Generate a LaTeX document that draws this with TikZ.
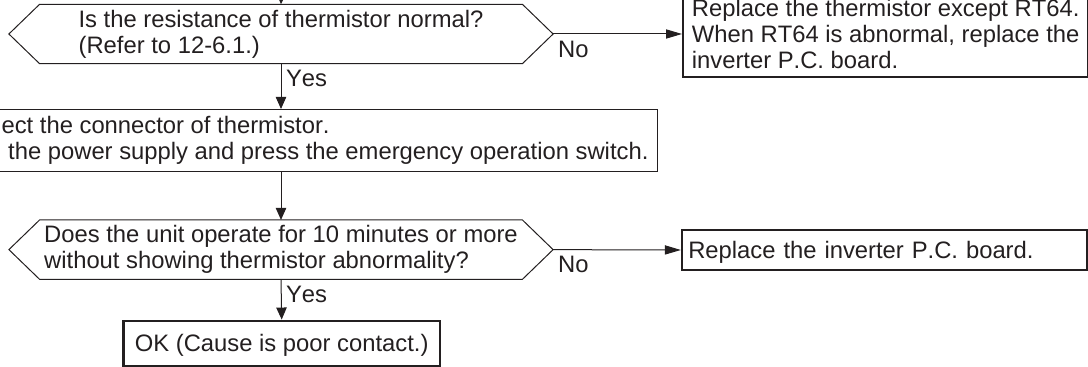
\documentclass[tikz,border=0pt]{standalone}
\usepackage{fontspec}
\setmainfont{Liberation Sans}[Kerning=Off]
\usepackage{xcolor}
\usetikzlibrary{arrows.meta,positioning}
\definecolor{ink}{RGB}{35,31,32}

% hexagon outline round a decision node
\newcommand{\askframe}[1]{%
  \draw[ink, line width=0.5pt] (#1.west) -- ([xshift=15.35pt]#1.north west)
    -- ([xshift=-15.35pt]#1.north east) -- (#1.east)
    -- ([xshift=-15.35pt]#1.south east) -- ([xshift=15.35pt]#1.south west) -- cycle;}

\tikzset{
  chart/.style={font=\fontsize{11.9}{13.1}\selectfont, text=ink},
  ask/.style={chart, minimum width=271.7pt, minimum height=29.3pt, inner sep=0pt, align=left},
  stepbox/.style={chart, draw=ink, line width=0.5pt, inner xsep=4.5pt, minimum height=29.65pt, align=left},
  endbox/.style={chart, draw=ink, line width=1.15pt, minimum width=202.5pt, align=left},
  flow/.style={draw=ink, line width=0.5pt, -{Triangle[length=6pt,width=5.2pt]}},
  flowh/.style={draw=ink, line width=0.5pt, -{Triangle[length=8pt,width=4.6pt]}},
  tag/.style={chart, anchor=north west, inner sep=0pt, xshift=2.3pt, yshift=-3.2pt},
}

\begin{document}
\begin{tikzpicture}[x=0.5pt, y=-0.5pt]
    \useasboundingbox (0,0) rectangle (1088,367);
    % first check
    \coordinate (in) at (281.7,-20);
    \node[ask] (q1) at (281,34) {Is the resistance of thermistor normal?\\(Refer to 12-6.1.)};
    \askframe{q1}
    \node[endbox, anchor=south west, inner ysep=4.15pt] (fix1) at (682,78.3)
        {Replace the thermistor except RT64.\\When RT64 is abnormal, replace the\\inverter P.C. board.};
    % restart
    \node[stepbox, anchor=east] (step1) at (658,140.35)
        {Reconnect the connector of thermistor.\\Turn on the power supply and press the emergency operation switch.};
    % second check
    \node[ask] (q2) at (281,249.65) {Does the unit operate for 10 minutes or more\\without showing thermistor abnormality?};
    \askframe{q2}
    \node[endbox, inner xsep=3.15pt, text width=196.2pt, inner ysep=0pt, text height=14.15pt, text depth=5.85pt]
        (fix2) at (884.5,250) {Replace the inverter P.C. board.};
    \node[chart, draw=ink, line width=1.15pt, minimum width=158.35pt, inner sep=0pt,
        text height=15.5pt, text depth=7.15pt] (ok) at (281.7,343.35) {OK (Cause is poor contact.)};
    % connectors
    \draw[flow] (in) -- (q1.north);
    \draw[flowh] (q1.east) -- node[tag, pos=0] {No} (q1.east -| fix1.west);
    \draw[flow] (q1.south) -- node[tag, pos=0] {Yes} (q1.south |- step1.north);
    \draw[flow] (q1.south |- step1.south) -- (q2.north);
    \draw[flowh] (q2.east) -- node[tag, pos=0] {No} (fix2.west);
    \draw[flow] (q2.south) -- node[tag, pos=0] {Yes} (ok.north);
\end{tikzpicture}
\end{document}
